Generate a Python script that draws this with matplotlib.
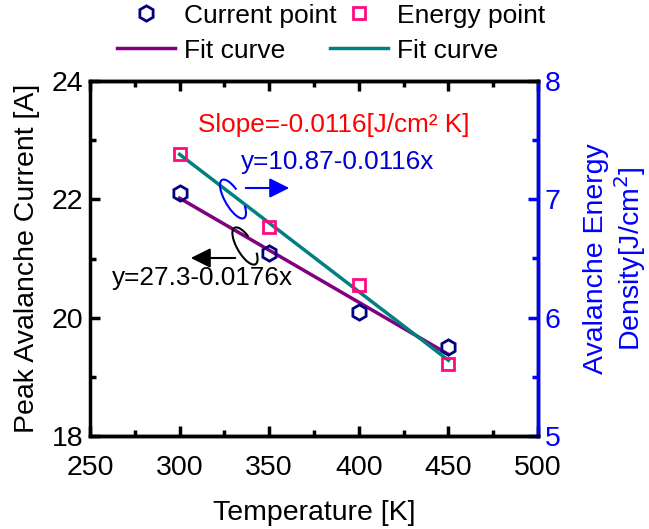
import numpy as np
import matplotlib
matplotlib.use("Agg")
import matplotlib.pyplot as plt
from matplotlib.patches import Arc
import matplotlib.transforms as mtransforms
from matplotlib.ticker import MultipleLocator

plt.rcParams['font.family'] = ['Liberation Sans', 'DejaVu Sans']

temperature = [300, 350, 400, 450]
current = [22.1, 21.1, 20.1, 19.5]
energy = [7.38, 6.77, 6.28, 5.61]
x_ticks = [250, 300, 350, 400, 450, 500]
left_ticks = [18, 20, 22, 24]
right_ticks = [5, 6, 7, 8]

W, H = 649, 529
fig = plt.figure(figsize=(W / 100, H / 100), dpi=100)
ax = fig.add_axes([90 / W, 1 - 436 / H, 448 / W, 355 / H])
ax2 = ax.twinx()

# fits
pc = np.polyfit(temperature, current, 1)
pe = np.polyfit(temperature, energy, 1)
xf = np.array([temperature[0], temperature[-1]])

h1, = ax.plot(temperature, current, 'h', ms=11, mfc='none', mec='#000080', mew=2, zorder=5)
h2, = ax.plot(xf, np.polyval(pc, xf), '-', color='#800080', lw=2.5)
h3, = ax2.plot(temperature, energy, 's', ms=8.5, mfc='none', mec='#FF0A80', mew=2, zorder=5)
h4, = ax2.plot(xf, np.polyval(pe, xf), '-', color='#008080', lw=2.5)

ax.set_xlim(250, 500)
ax.set_ylim(18, 24)
ax2.set_ylim(5, 8)
ax.set_xticks(x_ticks)
ax.set_yticks(left_ticks)
ax2.set_yticks(right_ticks)
ax.xaxis.set_minor_locator(MultipleLocator(25))
ax.yaxis.set_minor_locator(MultipleLocator(1))
ax2.yaxis.set_minor_locator(MultipleLocator(0.5))

fs = 20.5
ax.tick_params(axis='both', which='both', direction='in', width=2.5, labelsize=fs, top=True)
ax.tick_params(axis='both', which='major', length=7)
ax.tick_params(axis='both', which='minor', length=4)
ax.tick_params(axis='y', pad=5)
ax.tick_params(axis='x', pad=14)
ax2.tick_params(axis='y', which='both', direction='in', width=2.5, labelsize=fs,
                colors='#0000FF', pad=5)
ax2.tick_params(axis='y', which='major', length=7)
ax2.tick_params(axis='y', which='minor', length=4)

for s in ax.spines.values():
    s.set_linewidth(2.5)
for s in ax2.spines.values():
    s.set_linewidth(2.5)
ax2.spines['right'].set_color('#0000FF')
ax2.spines['left'].set_visible(False)

ax.set_xlabel('Temperature [K]', fontsize=fs, labelpad=13)
ax.set_ylabel('Peak Avalanche Current [A]', fontsize=fs, labelpad=8)
ax2.set_ylabel('Avalanche Energy\nDensity[J/cm$^2$]', fontsize=fs, color='#0000FF',
               labelpad=16, linespacing=1.1)

# annotations
afs = 18.8
ax.text(310, 23.26, 'Slope=-0.0116[J/cm² K]', color='#FF0000', fontsize=afs, va='center')
ax.text(334.3, 22.63, 'y=10.87-0.0116x', color='#0000CC', fontsize=afs, va='center')
ax.text(262.5, 20.67, 'y=27.3-0.0176x', color='black', fontsize=afs, va='center')

pix = mtransforms.Affine2D().scale(1 / W, -1 / H).translate(0, 1) + fig.transFigure
fig.add_artist(Arc((233, 199), 16, 44, angle=-30, theta1=60, theta2=320,
                   color='#0000FF', lw=1.5, transform=pix))
fig.add_artist(Arc((245, 246), 16, 42, angle=-30, theta1=60, theta2=320,
                   color='black', lw=1.5, transform=pix))
ax.annotate('', xy=(292 / W, 1 - 188 / H), xytext=(243 / W, 1 - 188 / H),
            xycoords='figure fraction', textcoords='figure fraction',
            arrowprops=dict(arrowstyle='-|>', color='#0000FF', lw=1.5, mutation_scale=30))
ax.annotate('', xy=(188 / W, 1 - 258 / H), xytext=(238 / W, 1 - 258 / H),
            xycoords='figure fraction', textcoords='figure fraction',
            arrowprops=dict(arrowstyle='-|>', color='black', lw=1.5, mutation_scale=30))

leg = fig.legend([h1, h2, h3, h4], ['Current point', 'Fit curve', 'Energy point', 'Fit curve'],
                 ncol=2, loc='upper left', bbox_to_anchor=(114 / W, 1 - 1 / H),
                 frameon=False, fontsize=19, handlelength=2.2, columnspacing=-0.25,
                 handletextpad=0.35, labelspacing=0.42, borderaxespad=0, borderpad=0.1)

fig.savefig('out.png', dpi=100)
